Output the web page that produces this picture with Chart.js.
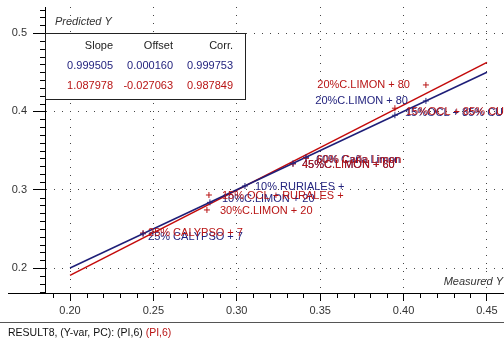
<!DOCTYPE html>
<html>
<head>
<meta charset="utf-8">
<script src="https://cdn.jsdelivr.net/npm/chart.js@4.4.1/dist/chart.umd.min.js"></script>
<style>
  html, body { margin: 0; padding: 0; background: #fff; overflow: hidden; }
  #wrap { width: 504px; height: 345px; position: relative; }
</style>
</head>
<body>
<div id="wrap"><canvas id="c" width="504" height="345"></canvas></div>
<script>
// Axis ticks
const xTicks = [0.20, 0.25, 0.30, 0.35, 0.40, 0.45];
const yTicks = [0.2, 0.3, 0.4, 0.5];

// Regression summary for the two models (blue, red)
const fitSlope  = [0.999505, 1.087978];
const fitOffset = [0.000160, -0.027063];
const fitCorr   = [0.999753, 0.987849];
const fitRange  = [0.20, 0.45];

// Blue model: observations
const blueLabels    = ['25% CALYPSO + 7', '10%C.LIMON + 20', '10% RURIALES +', '45%C.LIMON + 60', '60% Caña Limon', '15%OCL + 85% CU', '20%C.LIMON + 80'];
const blueMeasured  = [0.2438, 0.2839, 0.3049, 0.3337, 0.3415, 0.3948, 0.4134];
const bluePredicted = [0.2436, 0.2838, 0.3047, 0.3336, 0.3413, 0.3950, 0.4133];

// Red model: observations
const redLabels    = ['25% CALYPSO + 7', '15% OCL + RURALES +', '30%C.LIMON + 20', '45%C.LIMON + 60', '60% Caña Limon', '15%OCL + 85% CU', '20%C.LIMON + 80'];
const redMeasured  = [0.2438, 0.2833, 0.2821, 0.3337, 0.3415, 0.3948, 0.4134];
const redPredicted = [0.2447, 0.2932, 0.2741, 0.3328, 0.3400, 0.4040, 0.4337];

// Label placement relative to each marker: [dx, dy, align]
const labelPlacement = {
  blue: [[5, 3, 'left'], [12, -3, 'left'], [10, 1, 'left'], [9, 2, 'left'], [10, 3, 'left'], [10, -2, 'left'], [-18, 0, 'right']],
  red:  [[5, 0, 'left'], [13, 1, 'left'], [13, 1, 'left'], [9, 1, 'left'], [11, 2, 'left'], [11, 4, 'left'], [-16, 0, 'right']]
};

const BLUE = '#23237e';
const RED = '#b81414';
const BLUE_LINE = '#1e1e78';
const RED_LINE = '#c40a0a';
const FONT = "'Liberation Sans', Arial, sans-serif";

const pts = (xs, ys) => xs.map((x, i) => ({ x: x, y: ys[i] }));
const fitLine = k => fitRange.map(x => ({ x: x, y: fitSlope[k] * x + fitOffset[k] }));

const bgPlugin = {
  id: 'bg',
  beforeDraw(chart) {
    const ctx = chart.ctx;
    ctx.save();
    ctx.fillStyle = '#fff';
    ctx.fillRect(0, 0, chart.width, chart.height);
    ctx.restore();
  }
};

const decorPlugin = {
  id: 'decor',
  afterDatasetsDraw(chart) {
    const ctx = chart.ctx;
    const xs = chart.scales.x, ys = chart.scales.y;
    const area = chart.chartArea;

    // observation labels (blue first, red on top)
    ctx.save();
    ctx.font = '11px ' + FONT;
    ctx.textBaseline = 'middle';
    [['blue', 0, blueLabels, BLUE], ['red', 1, redLabels, RED]].forEach(([key, di, labels, col]) => {
      const meta = chart.getDatasetMeta(di);
      ctx.fillStyle = col;
      meta.data.forEach((el, i) => {
        const p = labelPlacement[key][i];
        ctx.textAlign = p[2];
        ctx.fillText(labels[i], el.x + p[0], el.y + p[1]);
      });
    });
    ctx.restore();

    // minor ticks
    ctx.save();
    ctx.strokeStyle = '#000';
    ctx.lineWidth = 1;
    ctx.beginPath();
    for (let k = 19; k <= 46; k++) {
      if (k % 5 === 0) continue;
      const px = Math.round(xs.getPixelForValue(k / 100)) + 0.5;
      if (px < area.left || px > area.right) continue;
      ctx.moveTo(px, area.bottom);
      ctx.lineTo(px, area.bottom + 5);
    }
    for (let k = 17; k <= 53; k++) {
      if (k % 10 === 0) continue;
      const py = Math.round(ys.getPixelForValue(k / 100)) + 0.5;
      if (py < area.top || py > area.bottom) continue;
      ctx.moveTo(area.left, py);
      ctx.lineTo(area.left - 5, py);
    }
    // x axis line continues to the left edge
    const yb = Math.round(area.bottom) + 0.5;
    ctx.moveTo(8, yb);
    ctx.lineTo(area.left, yb);
    ctx.stroke();
    ctx.restore();

    // statistics box
    const bx = 45.5, by = Math.round(ys.getPixelForValue(0.5)) + 0.5, bw = 200, bh = 66;
    ctx.save();
    ctx.fillStyle = '#fff';
    ctx.fillRect(bx, by, bw, bh);
    ctx.strokeStyle = '#222';
    ctx.lineWidth = 1;
    ctx.strokeRect(bx, by, bw, bh);
    ctx.font = '11px ' + FONT;
    ctx.textAlign = 'right';
    ctx.textBaseline = 'middle';
    const cols = [113, 173, 233];
    ctx.fillStyle = '#222';
    ['Slope', 'Offset', 'Corr.'].forEach((t, i) => ctx.fillText(t, cols[i], by + 12));
    [[BLUE, 0, by + 32], [RED, 1, by + 52]].forEach(([col, k, y]) => {
      ctx.fillStyle = col;
      ctx.fillText(fitSlope[k].toFixed(6), cols[0], y);
      ctx.fillText(fitOffset[k].toFixed(6), cols[1], y);
      ctx.fillText(fitCorr[k].toFixed(6), cols[2], y);
    });
    ctx.restore();

    // axis titles
    ctx.save();
    ctx.font = 'italic 11px ' + FONT;
    ctx.fillStyle = '#333';
    ctx.textBaseline = 'middle';
    ctx.textAlign = 'left';
    ctx.fillText('Predicted Y', 55, 22);
    ctx.textAlign = 'right';
    ctx.fillText('Measured Y', 503, 282);
    ctx.restore();

    // footer
    ctx.save();
    ctx.strokeStyle = '#555';
    ctx.lineWidth = 1;
    ctx.beginPath();
    ctx.moveTo(0, 322.5);
    ctx.lineTo(chart.width, 322.5);
    ctx.stroke();
    ctx.font = '10.5px ' + FONT;
    ctx.textBaseline = 'middle';
    ctx.textAlign = 'left';
    const part1 = 'RESULT8, (Y-var, PC): (PI,6) ';
    ctx.fillStyle = '#111';
    ctx.fillText(part1, 8, 333);
    ctx.fillStyle = RED;
    ctx.fillText('(PI,6)', 8 + ctx.measureText(part1).width, 333);
    ctx.restore();
  }
};

new Chart(document.getElementById('c'), {
  type: 'scatter',
  data: {
    datasets: [
      { data: pts(blueMeasured, bluePredicted), pointStyle: 'cross', pointRadius: 3, borderColor: BLUE, backgroundColor: BLUE, borderWidth: 1 },
      { data: pts(redMeasured, redPredicted), pointStyle: 'cross', pointRadius: 3, borderColor: RED, backgroundColor: RED, borderWidth: 1 },
      { type: 'line', data: fitLine(0), borderColor: BLUE_LINE, borderWidth: 1.5, pointRadius: 0, fill: false },
      { type: 'line', data: fitLine(1), borderColor: RED_LINE, borderWidth: 1.5, pointRadius: 0, fill: false }
    ]
  },
  options: {
    responsive: false,
    animation: false,
    devicePixelRatio: 1,
    layout: { autoPadding: false, padding: { top: 7, left: 0, right: 0, bottom: 27 } },
    plugins: { legend: { display: false }, tooltip: { enabled: false } },
    scales: {
      x: {
        type: 'linear',
        min: 0.18501,
        max: 0.46022,
        afterBuildTicks: s => { s.ticks = xTicks.map(v => ({ value: v })); },
        afterFit: s => { s.height = 25; s.paddingLeft = 0; s.paddingRight = 0; },
        grid: { color: '#444', lineWidth: 1, tickColor: '#000', tickLength: 8, tickBorderDash: [] },
        border: { display: true, color: '#000', width: 1, dash: [1, 7] },
        ticks: { font: { family: FONT, size: 11 }, color: '#333', padding: 3, maxRotation: 0, autoSkip: false, callback: v => Number(v).toFixed(2) }
      },
      y: {
        type: 'linear',
        min: 0.1681,
        max: 0.5332,
        afterBuildTicks: s => { s.ticks = yTicks.map(v => ({ value: v })); },
        afterFit: s => { s.width = 45; s.paddingTop = 0; s.paddingBottom = 0; },
        grid: { color: '#444', lineWidth: 1, tickColor: '#000', tickLength: 12, tickBorderDash: [] },
        border: { display: true, color: '#000', width: 1, dash: [1, 7] },
        ticks: { font: { family: FONT, size: 11 }, color: '#333', padding: 6, autoSkip: false, callback: v => Number(v).toFixed(1) }
      }
    }
  },
  plugins: [bgPlugin, decorPlugin]
});
</script>
</body>
</html>
